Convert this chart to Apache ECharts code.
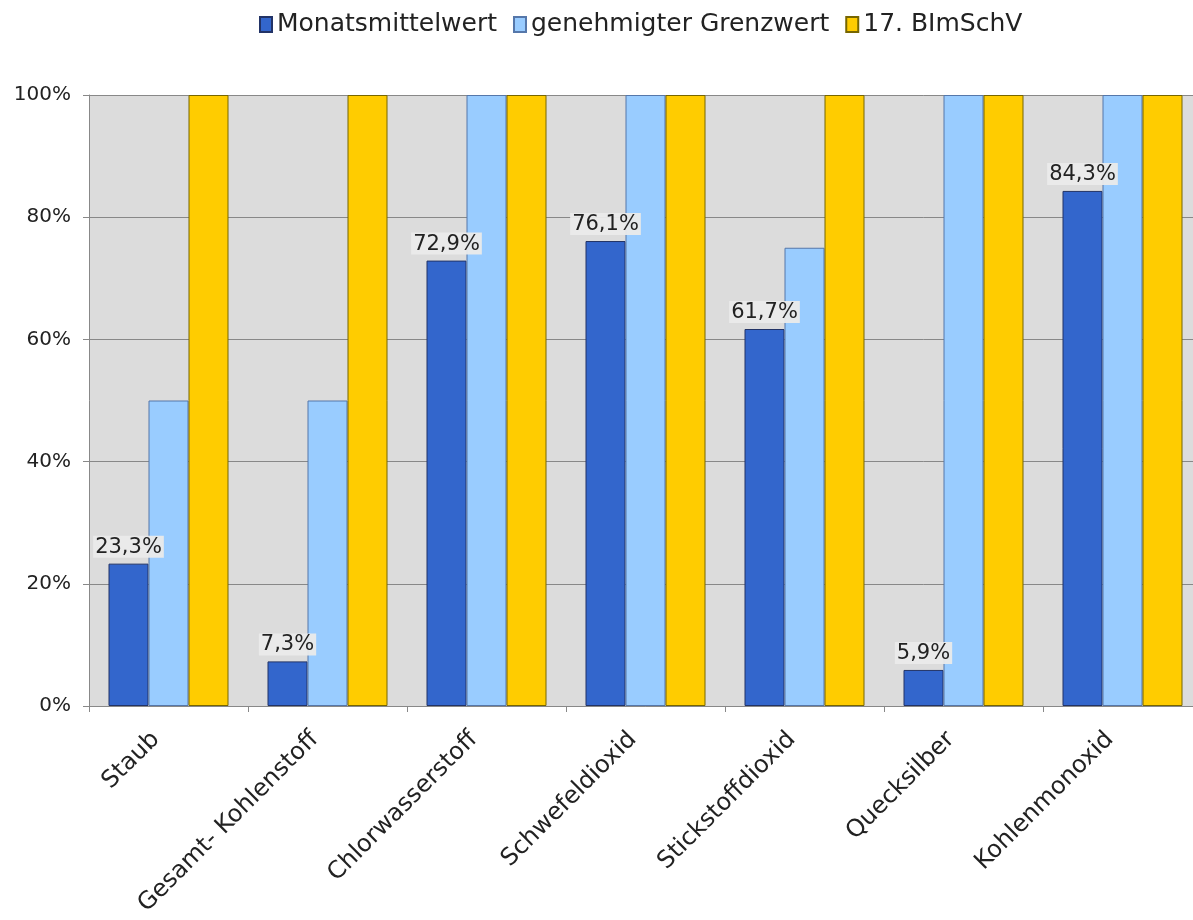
<!DOCTYPE html>
<html><head><meta charset="utf-8">
<script src="https://cdn.jsdelivr.net/npm/echarts@6/dist/echarts.min.js"></script>
<style>html,body{margin:0;padding:0;background:#fff;overflow:hidden}#c{width:1202px;height:920px}</style>
</head><body><div id="c"></div>
<script>
const categories = ['Staub','Gesamt- Kohlenstoff','Chlorwasserstoff','Schwefeldioxid','Stickstoffdioxid','Quecksilber','Kohlenmonoxid'];
const seriesNames = ['Monatsmittelwert','genehmigter Grenzwert','17. BImSchV'];
const monatsmittelwert = [23.3, 7.3, 72.9, 76.1, 61.7, 5.9, 84.3];
const grenzwert = [50, 50, 100, 100, 75, 100, 100];
const bimschv = [100, 100, 100, 100, 100, 100, 100];
const yTicks = [0, 20, 40, 60, 80, 100];

const font = 'DejaVu Sans';
const chart = echarts.init(document.getElementById('c'));
function mk(name, data, color, border, label) {
  return {
    name, type: 'bar', data, barWidth: 40, barGap: '0%',
    itemStyle: { color, borderColor: border, borderWidth: 1 },
    label: label ? {
      show: true, position: 'top', distance: 6,
      formatter: p => p.value.toFixed(1).replace('.', ',') + '%',
      fontFamily: font, fontSize: 21, color: '#222',
      backgroundColor: 'rgba(234,234,234,0.95)', padding: [1, 2, 0, 2]
    } : { show: false }
  };
}
chart.setOption({
  animation: false,
  textStyle: { fontFamily: font },
  legend: {
    top: 7, left: 254, itemWidth: 12, itemHeight: 15, itemGap: 16,
    textStyle: { fontFamily: font, fontSize: 25, color: '#222' },
    icon: 'rect', data: seriesNames
  },
  grid: { left: 89, right: 0, top: 95, bottom: 214, containLabel: false, outerBoundsMode: 'none',
          show: true, backgroundColor: '#dcdcdc', borderWidth: 0 },
  xAxis: {
    type: 'category', data: categories,
    axisLine: { lineStyle: { color: '#888', width: 1 } },
    axisTick: { show: true, length: 6, lineStyle: { color: '#888' } },
    axisLabel: { rotate: 45, interval: 0, fontFamily: font, fontSize: 24, color: '#222', margin: 17, padding: [0, 18, 0, 0] }
  },
  yAxis: {
    type: 'value', min: 0, max: 100, interval: 20,
    axisLine: { show: true, lineStyle: { color: '#888', width: 1 } },
    axisTick: { show: true, length: 6, lineStyle: { color: '#888' } },
    splitLine: { lineStyle: { color: '#888', width: 1 } },
    axisLabel: { fontFamily: font, fontSize: 20, color: '#222', margin: 18,
      formatter: v => yTicks.includes(v) ? v + '%' : '' }
  },
  series: [
    mk(seriesNames[0], monatsmittelwert, '#3366cc', '#223366', true),
    mk(seriesNames[1], grenzwert, '#99ccff', '#5577aa', false),
    mk(seriesNames[2], bimschv, '#ffcc00', '#776600', false)
  ]
});
</script></body></html>
